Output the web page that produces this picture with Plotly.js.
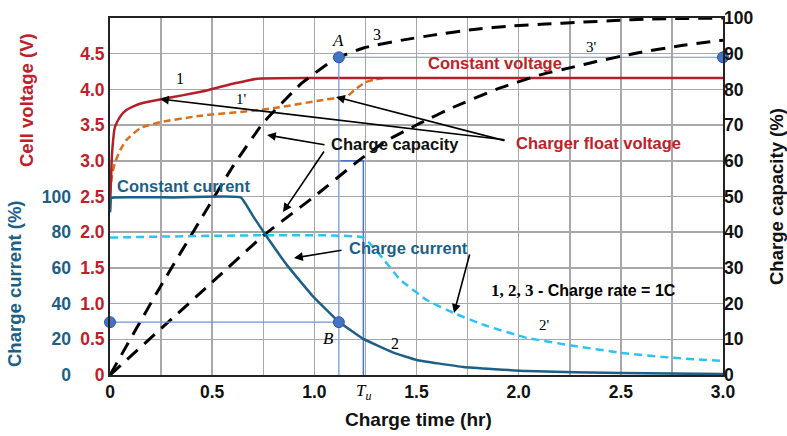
<!DOCTYPE html>
<html>
<head>
<meta charset="utf-8">
<script src="https://cdn.plot.ly/plotly-3.0.1.min.js"></script>
<style>html,body{margin:0;padding:0;background:#fff;}#chart{width:787px;height:436px;}</style>
</head>
<body>
<div id="chart"></div>
<script>
// ---- data ----
// Cell voltage, curve 1 (V)
var tV1 = [0, 0.01, 0.024, 0.05, 0.08, 0.12, 0.16, 0.245, 0.36, 0.45, 0.52, 0.6, 0.67, 0.72, 1.0, 1.5, 2.0, 2.5, 3.0];
var V1  = [2.3, 3.1, 3.47, 3.62, 3.71, 3.77, 3.81, 3.86, 3.92, 3.97, 4.02, 4.08, 4.12, 4.15, 4.16, 4.16, 4.16, 4.16, 4.16];
// Cell voltage, curve 1' (V)
var tV1p = [0, 0.01, 0.024, 0.05, 0.08, 0.15, 0.245, 0.44, 0.73, 0.83, 1.06, 1.12, 1.16, 1.2, 1.25, 1.3, 1.35];
var V1p  = [2.55, 2.8, 2.97, 3.15, 3.29, 3.46, 3.54, 3.63, 3.71, 3.75, 3.86, 3.88, 3.9, 4.0, 4.1, 4.14, 4.16];
// Charge capacity, curve 3 (%)
var tC3 = [0, 0.245, 0.465, 0.6, 0.75, 0.94, 1.08, 1.12, 1.24, 1.43, 1.58, 1.78, 1.97, 2.13, 2.3, 2.47, 2.63, 3.0];
var C3  = [0, 24.6, 45.6, 58.3, 70.6, 81.8, 87.7, 89, 91.6, 93.8, 95.2, 96.8, 97.8, 98.3, 98.8, 99.3, 99.7, 100];
// Charge capacity, curve 3' (%)
var tC3p = [0, 0.5, 0.75, 1.0, 1.22, 1.35, 1.52, 1.68, 1.89, 2.1, 2.27, 2.38, 2.58, 2.79, 3.0];
var C3p  = [0, 26, 39, 50, 60.2, 65.5, 70.6, 75, 80, 84, 86.3, 87.8, 90.2, 92.2, 93.8];
// Charge current, curve 2 (%)
var tI2 = [0, 0.005, 0.02, 0.3, 0.64, 0.7, 0.77, 0.87, 0.99, 1.12, 1.24, 1.39, 1.5, 1.73, 2.04, 2.5, 3.0];
var I2  = [91, 99, 99.5, 99.5, 99.5, 89, 77, 61, 44.5, 29.8, 20.2, 12.4, 8.4, 4.5, 2.2, 1.1, 0.5];
// Charge current, curve 2' (%)
var tI2p = [0, 1.24, 1.34, 1.42, 1.55, 1.68, 1.83, 2.04, 2.24, 2.5, 2.76, 3.0];
var I2p  = [77, 77, 64.6, 53.4, 42, 34.8, 28, 20.8, 16.9, 12.4, 9.6, 7.9];
// marked points
var tA = 1.12, capA = 89;      // point A (capacity %)
var tB = 1.12, curB = 29.6;    // point B (current %)
var tU = 1.24, capTu = 60;     // T_u marker line
// tick labels
var xTicks = [0, 0.25, 0.5, 0.75, 1.0, 1.25, 1.5, 1.75, 2.0, 2.25, 2.5, 2.75, 3.0];
var xTickText = ['0', '', '0.5', '', '1.0', '', '1.5', '', '2.0', '', '2.5', '', '3.0'];
var vTicks = [0, 0.5, 1.0, 1.5, 2.0, 2.5, 3.0, 3.5, 4.0, 4.5];
var vTickText = ['0', '0.5', '1.0', '1.5', '2.0', '2.5', '3.0', '3.5', '4.0', '4.5'];
var iTicks = [0, 20, 40, 60, 80, 100];
var cTicks = [0, 10, 20, 30, 40, 50, 60, 70, 80, 90, 100];

var RED = '#c0202a', BLUE = '#1d5f86', GUIDE = '#6d93d6', DOT = '#4472c4';
var F = 'Liberation Sans, Arial, sans-serif', SERIF = 'Liberation Serif, Times New Roman, serif';

// pixel frame: margin left 20, plot x from 110 to 723
var ML = 20, PW = 787 - ML - 64;
var xDom0 = (110 - ML) / PW;
var y3Pos = (71 - ML) / PW;

var traces = [
  // guide lines
  {x: [tA, 3.0], y: [capA, capA], yaxis: 'y2', mode: 'lines', line: {color: GUIDE, width: 1.2}},
  {x: [tA, tA], y: [0, capA], yaxis: 'y2', mode: 'lines', line: {color: GUIDE, width: 1.2}},
  {x: [0, tB], y: [curB, curB], yaxis: 'y3', mode: 'lines', line: {color: GUIDE, width: 1.2}},
  {x: [tU - 0.11, tU, tU], y: [capTu, capTu, 0], yaxis: 'y2', mode: 'lines', line: {color: '#4a74c8', width: 1.5}},
  // curves
  {x: tC3p, y: C3p, yaxis: 'y2', mode: 'lines', line: {color: '#000', width: 3, dash: '14px,9px', shape: 'spline', smoothing: 0.5}},
  {x: tC3, y: C3, yaxis: 'y2', mode: 'lines', line: {color: '#000', width: 3, dash: '14px,9px', shape: 'spline', smoothing: 0.5}},
  {x: tI2p, y: I2p, yaxis: 'y3', mode: 'lines', line: {color: '#2cc3f4', width: 2.5, dash: '8px,5px', shape: 'spline', smoothing: 0.3}},
  {x: tI2, y: I2, yaxis: 'y3', mode: 'lines', line: {color: BLUE, width: 2.5, shape: 'spline', smoothing: 0.3}},
  {x: tV1p, y: V1p, yaxis: 'y', mode: 'lines', line: {color: '#d8701e', width: 2.5, dash: '7px,4px', shape: 'spline', smoothing: 0.5}},
  {x: tV1, y: V1, yaxis: 'y', mode: 'lines', line: {color: '#b3202a', width: 2.5, shape: 'spline', smoothing: 0.5}},
  // dots
  {x: [tA, 3.0], y: [capA, capA], yaxis: 'y2', mode: 'markers', cliponaxis: false,
   marker: {color: DOT, size: 11, line: {color: '#2f55a0', width: 1}}},
  {x: [0, tB], y: [curB, curB], yaxis: 'y3', mode: 'markers', cliponaxis: false,
   marker: {color: DOT, size: 11, line: {color: '#2f55a0', width: 1}}}
];

function px2t(px) { return (px - 110) / 204.33; }
function py2c(py) { return (375 - py) / 3.57; }

function txt(px, py, text, color, size, family) {
  return {x: px2t(px), y: py2c(py), xref: 'x', yref: 'y2', text: text, showarrow: false,
    xanchor: 'center', yanchor: 'middle', font: {color: color, size: size, family: family}};
}
function arrow(hx, hy, tx, ty) {
  return {x: px2t(hx), y: py2c(hy), ax: px2t(tx), ay: py2c(ty), xref: 'x', yref: 'y2', axref: 'x', ayref: 'y2',
    text: '', showarrow: true, arrowhead: 2, arrowsize: 1.1, arrowwidth: 1.6, arrowcolor: '#000', standoff: 0};
}
function ptxt(px, py, text, color, size, angle) {
  return {x: (px - ML) / PW, y: (375 - py) / 357, xref: 'paper', yref: 'paper', text: text, textangle: angle,
    xanchor: 'center', yanchor: 'middle', showarrow: false, font: {color: color, size: size, family: F}};
}

var ann = [
  txt(180, 78, '1', '#000', 16, SERIF),
  txt(241, 99, "1'", '#000', 15, SERIF),
  txt(338, 40, '<i>A</i>', '#000', 17, SERIF),
  txt(377, 34, '3', '#000', 16, SERIF),
  txt(591, 47, "3'", '#000', 15, SERIF),
  txt(495, 63, '<b>Constant voltage</b>', RED, 16.5, F),
  txt(598, 143, '<b>Charger float voltage</b>', RED, 16.5, F),
  txt(395, 144, '<b>Charge capacity</b>', '#111', 16.5, F),
  txt(183, 186, '<b>Constant current</b>', BLUE, 16.5, F),
  txt(408, 248, '<b>Charge current</b>', BLUE, 16.5, F),
  txt(583, 290, '<b><span style="font-family:Liberation Serif, serif;font-size:17px">1, 2, 3</span> - Charge rate = 1C</b>', '#000', 16, F),
  txt(328, 338, '<i>B</i>', '#000', 17, SERIF),
  txt(395, 343, '2', '#000', 16, SERIF),
  txt(544, 325, "2'", '#000', 15, SERIF),
  {x: tU, y: (375 - 392) / 357, xref: 'x', yref: 'paper', text: '<i>T<sub>u</sub></i>', showarrow: false,
   xanchor: 'center', yanchor: 'middle', font: {color: '#000', size: 17, family: SERIF}},
  arrow(160, 99, 506, 140),
  arrow(336, 97, 506, 141),
  arrow(267, 135, 326, 145),
  arrow(283, 212, 325, 150),
  arrow(294, 258, 343, 250),
  arrow(454, 313, 470, 253),
  // axis titles
  ptxt(27, 100, '<b>Cell voltage (V)</b>', RED, 18.5, -90),
  ptxt(14, 284, '<b>Charge current (%)</b>', BLUE, 18.5, -90),
  ptxt(776, 197, '<b>Charge capacity (%)</b>', '#111', 18.5, -90),
  ptxt(418, 419, '<b>Charge time (hr)</b>', '#111', 19, 0)
];

var layout = {
  width: 787, height: 436,
  margin: {l: ML, r: 64, t: 18, b: 61},
  paper_bgcolor: '#fff', plot_bgcolor: '#fff',
  showlegend: false,
  font: {family: F},
  xaxis: {domain: [xDom0, 1], range: [0, 3], tickvals: xTicks, ticktext: xTickText, ticks: '', showgrid: true,
    gridcolor: '#a8a8a8', gridwidth: 1.5, zeroline: false, showline: true, linecolor: '#222', linewidth: 2,
    mirror: true, tickfont: {size: 17.5, color: '#111', family: F, weight: 'bold'}},
  yaxis: {range: [0, 5], tickvals: vTicks, ticktext: vTickText, ticks: '', showgrid: true,
    gridcolor: '#a8a8a8', gridwidth: 1.5, zeroline: false, showline: true, linecolor: '#222', linewidth: 2,
    mirror: true, tickfont: {size: 17.5, color: RED, family: F, weight: 'bold'}},
  yaxis2: {range: [0, 100], overlaying: 'y', side: 'right', anchor: 'x', tickvals: cTicks, ticks: '',
    showgrid: false, zeroline: false, showline: false,
    tickfont: {size: 17.5, color: '#111', family: F, weight: 'bold'}},
  yaxis3: {range: [0, 200], overlaying: 'y', side: 'left', anchor: 'free', position: y3Pos, tickvals: iTicks, ticks: '',
    showgrid: false, zeroline: false, showline: false,
    tickfont: {size: 17.5, color: BLUE, family: F, weight: 'bold'}},
  annotations: ann
};

Plotly.newPlot('chart', traces, layout, {staticPlot: true, displayModeBar: false});
</script>
</body>
</html>
